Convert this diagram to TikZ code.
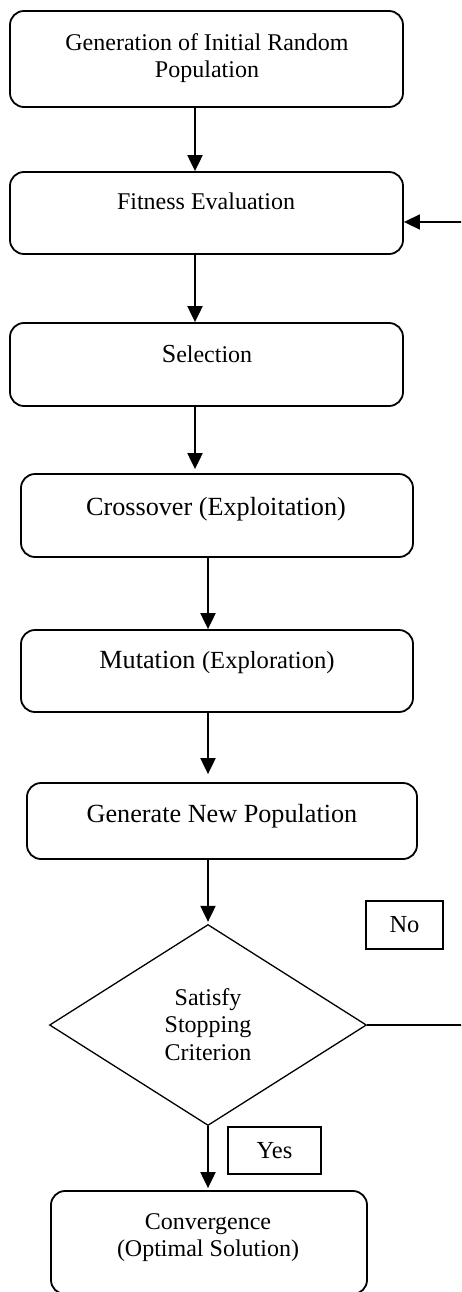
\documentclass[tikz,border=0pt]{standalone}
\usepackage{fontspec}
\setmainfont{Liberation Serif}
\usetikzlibrary{arrows.meta,shapes.geometric}
\begin{document}
\begin{tikzpicture}[x=1pt,y=-1pt,
  procbox/.style={draw, rectangle, line width=1.8pt, rounded corners=14pt, inner sep=0pt},
  decbox/.style={draw, diamond, line width=1.3pt, inner sep=0pt},
  lblbox/.style={draw, rectangle, line width=1.5pt, inner sep=0pt, font=\fontsize{24.5}{28}\selectfont},
  txt/.style={anchor=north, inner sep=0pt, align=center, font=\fontsize{24}{27.5}\selectfont},
  bigtxt/.style={txt, font=\fontsize{26.2}{30}\selectfont},
  arr/.style={line width=2pt, -{Triangle[length=16pt,width=15pt]}},
  loopline/.style={line width=1.6pt, -{Triangle[length=16pt,width=15pt]}}
]
\useasboundingbox (0,0) rectangle (461,1292);
\clip (0,0) rectangle (461,1292);

% boxes
\node[procbox, minimum width=393pt, minimum height=96pt] (b1) at (206.5,59) {};
\node[procbox, minimum width=393pt, minimum height=82pt] (b2) at (206.5,213) {};
\node[procbox, minimum width=393pt, minimum height=83pt] (b3) at (206.5,364.5) {};
\node[procbox, minimum width=392pt, minimum height=83pt] (b4) at (217,515.5) {};
\node[procbox, minimum width=392pt, minimum height=82pt] (b5) at (217,671) {};
\node[procbox, minimum width=390pt, minimum height=76pt] (b6) at (222,821) {};
\node[decbox, minimum width=317pt, minimum height=201pt] (d) at (208,1025) {};
\node[procbox, minimum width=316pt, minimum height=103pt] (b8) at (209,1242.5) {};
\node[lblbox, minimum width=77pt, minimum height=48pt] (no) at (404.5,925) {No};
\node[lblbox, minimum width=93pt, minimum height=47pt] (yes) at (274.5,1150.5) {Yes};

% texts
\node[txt] (t1) at (207,33) {Generation of Initial Random\\Population};
\node[txt] (t2) at (206,193) {Fitness Evaluation};
\node[txt] (t3) at (207,345) {{\fontsize{26}{30}\selectfont S}election};
\node[bigtxt] (t4) at (216,497) {Crossover (Exploitation)};
\node[bigtxt] (t5) at (217,651) {Mutation {\fontsize{24.6}{30}\selectfont(Exploration)}};
\node[bigtxt] (t6) at (222,804) {Generate New Population};
\node[txt] (td) at (208,988) {Satisfy\\Stopping\\Criterion};
\node[txt] (t8) at (208,1213) {Convergence\\(Optimal Solution)};

% arrow columns
\coordinate (ca) at (195,0);
\coordinate (cb) at (208,0);
\draw[arr] (b1.south -| ca) -- (b2.north -| ca);
\draw[arr] (b2.south -| ca) -- (b3.north -| ca);
\draw[arr, shorten >=4pt] (b3.south -| ca) -- (b4.north -| ca);
\draw[arr] (b4.south -| cb) -- (b5.north -| cb);
\draw[arr, shorten >=8pt] (b5.south -| cb) -- (b6.north -| cb);
\draw[arr, shorten >=2pt] (b6.south -| cb) -- (d.north);
\draw[arr, shorten >=2pt] (d.south) -- (b8.north -| cb);

% loop back
\coordinate (lp) at (468,222);
\draw[loopline] (d.east) -| (lp) -- (lp -| b2.east);
\end{tikzpicture}
\end{document}
